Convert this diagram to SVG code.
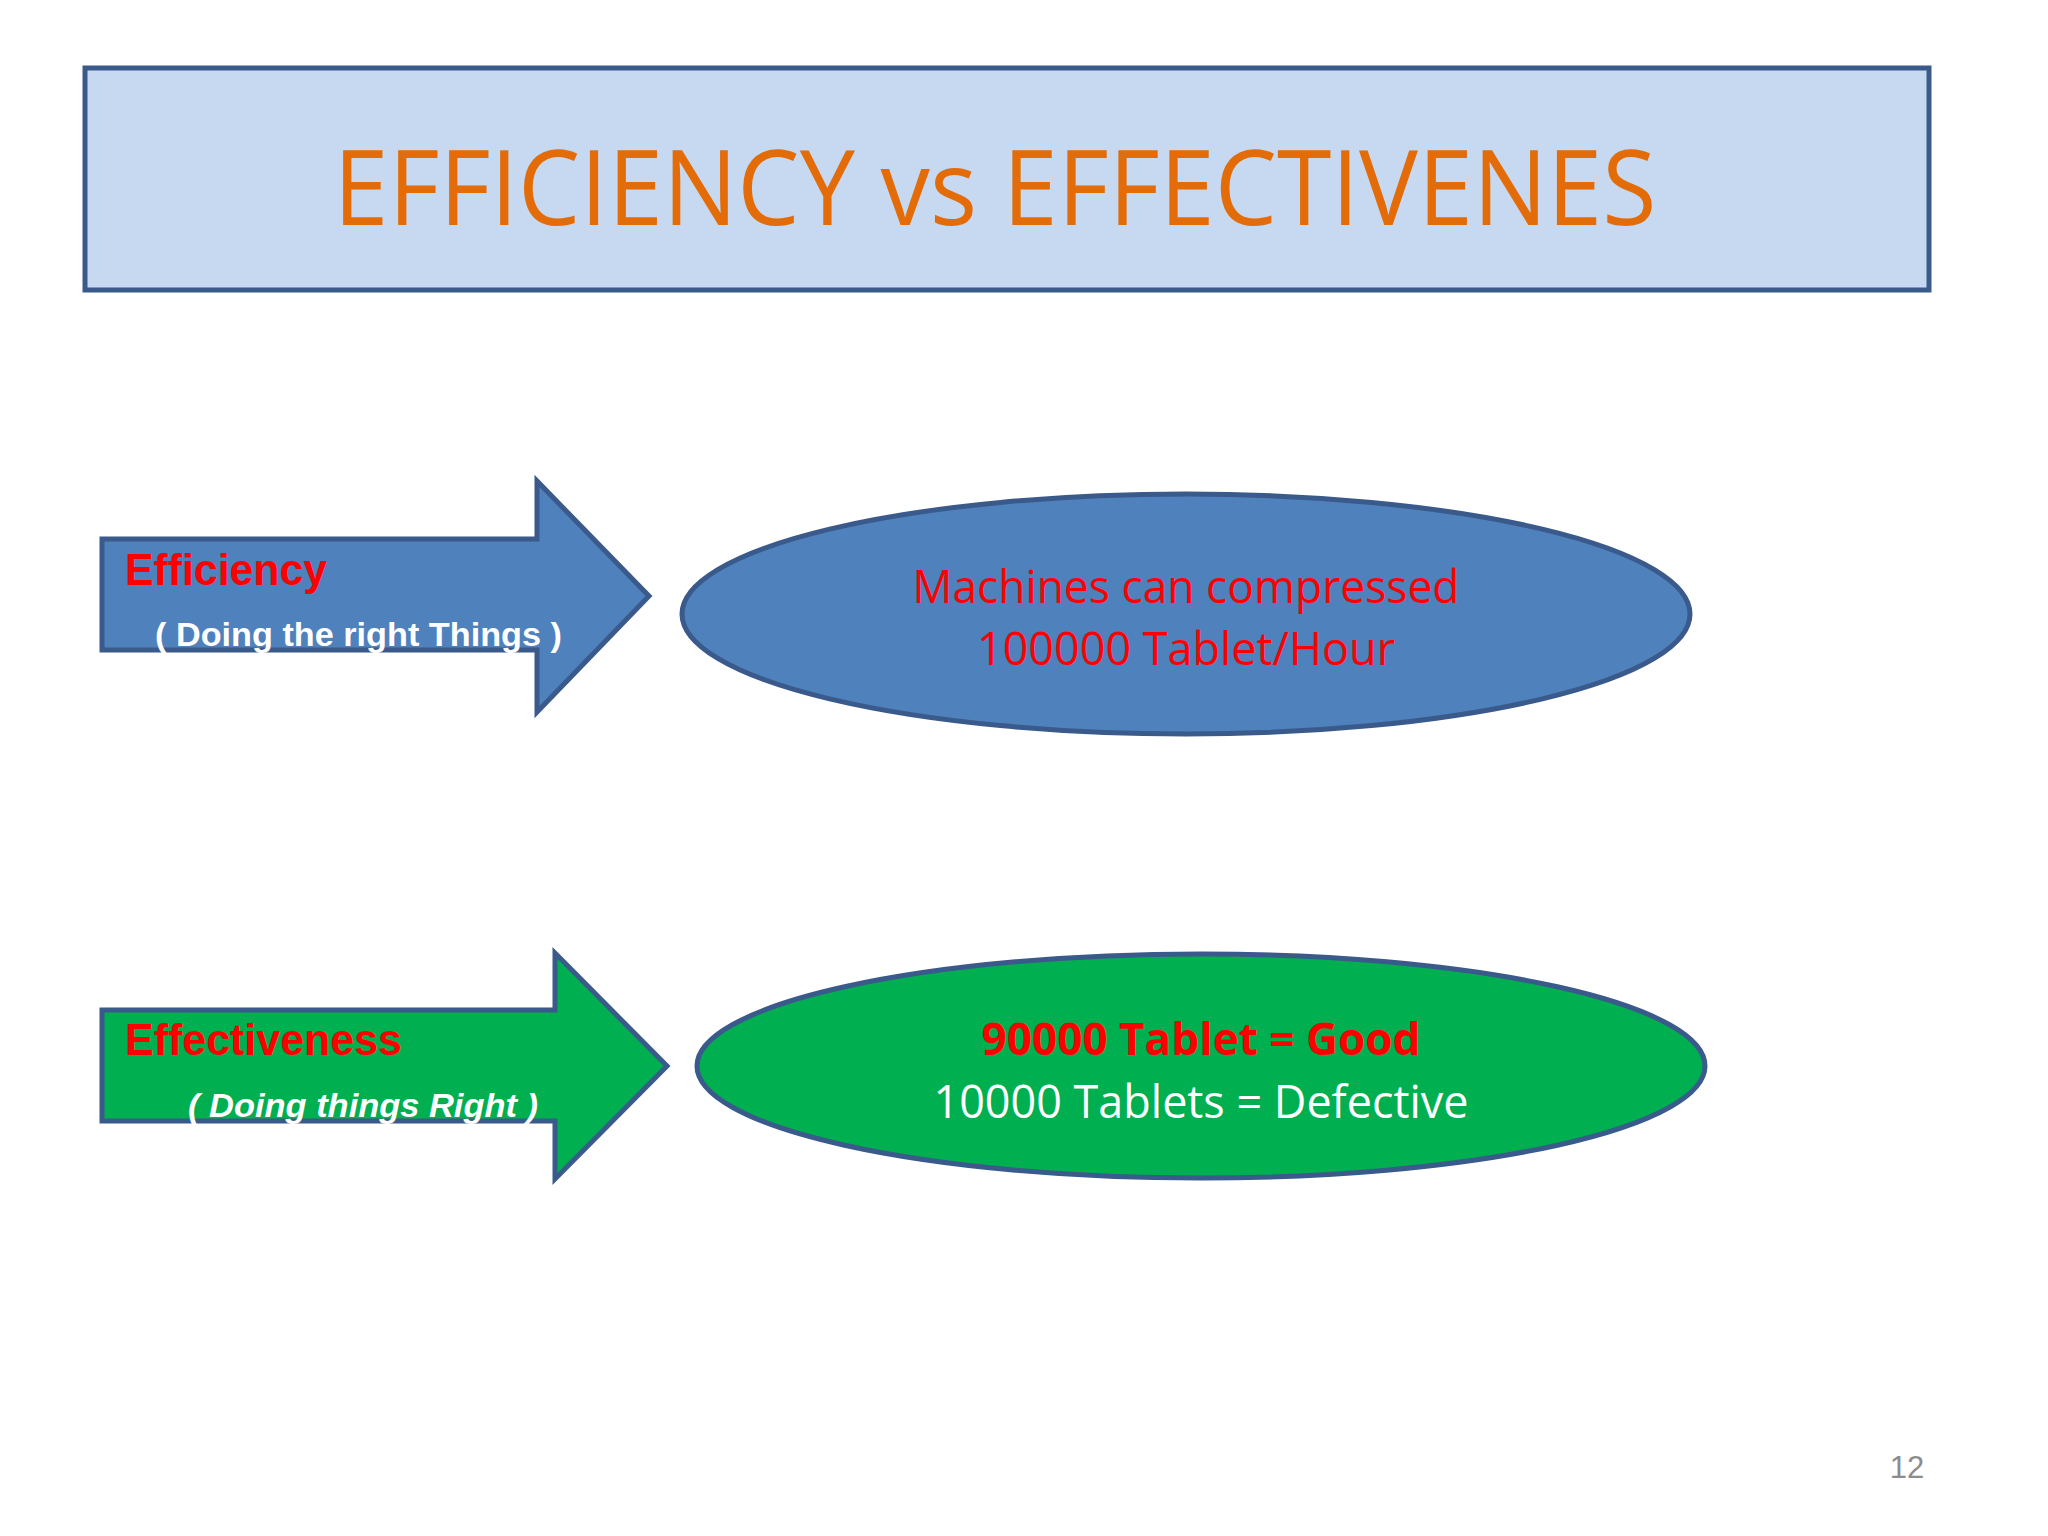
<svg xmlns="http://www.w3.org/2000/svg" width="2048" height="1536" viewBox="0 0 2048 1536">
<style>
.sh{stroke:#3A5A8C;stroke-width:5}
.t{font-family:"Open Sans","Liberation Sans",sans-serif}
.lab{font-family:"Liberation Sans Narrow","Liberation Sans",sans-serif;font-weight:bold}
</style>
<rect width="2048" height="1536" fill="#fff"/>
<g id="title">
<rect x="85" y="68" width="1844" height="222" fill="#C6D9F1" class="sh"/>
<text x="995" y="225" text-anchor="middle" class="t" font-size="104" fill="#E36C09" textLength="1323" lengthAdjust="spacingAndGlyphs">EFFICIENCY vs EFFECTIVENES</text>
</g>
<g id="arrow1">
<polygon points="102,539 537,539 537,481 649,596 537,712 537,650 102,650" fill="#4F81BD" class="sh"/>
<text x="125" y="585" class="lab" font-size="44" fill="#FF0000" textLength="202" lengthAdjust="spacingAndGlyphs">Efficiency</text>
<text x="155" y="646" class="lab" font-size="34" fill="#fff" textLength="407" lengthAdjust="spacingAndGlyphs">( Doing the right Things )</text>
</g>
<g id="arrow2">
<polygon points="102,1010 555,1010 555,953 667,1066 555,1179 555,1121 102,1121" fill="#00B050" class="sh"/>
<text x="125" y="1055" class="lab" font-size="44" fill="#FF0000" textLength="277" lengthAdjust="spacingAndGlyphs">Effectiveness</text>
<text x="188" y="1117" class="lab" font-size="34" font-style="italic" fill="#fff" textLength="350" lengthAdjust="spacingAndGlyphs">( Doing things Right )</text>
</g>
<g id="ellipse1">
<ellipse cx="1186" cy="614" rx="504" ry="120" fill="#4F81BD" class="sh"/>
<text x="1186" y="603" text-anchor="middle" class="t" font-size="45" fill="#FF0000" textLength="547" lengthAdjust="spacingAndGlyphs">Machines can compressed</text>
<text x="1186" y="665" text-anchor="middle" class="t" font-size="45" fill="#FF0000" textLength="418" lengthAdjust="spacingAndGlyphs">100000 Tablet/Hour</text>
</g>
<g id="ellipse2">
<ellipse cx="1201" cy="1066" rx="504" ry="112" fill="#00B050" class="sh"/>
<text x="1201" y="1055" text-anchor="middle" class="t" font-weight="bold" font-size="45" fill="#FF0000" textLength="439" lengthAdjust="spacingAndGlyphs">90000 Tablet = Good</text>
<text x="1201" y="1118" text-anchor="middle" class="t" font-size="45" fill="#fff" textLength="535" lengthAdjust="spacingAndGlyphs">10000 Tablets = Defective</text>
</g>
<g id="connectors"></g>
<text x="1907" y="1478" text-anchor="middle" font-family="Liberation Sans,sans-serif" font-size="31" fill="#8C8C8C">12</text>
</svg>
